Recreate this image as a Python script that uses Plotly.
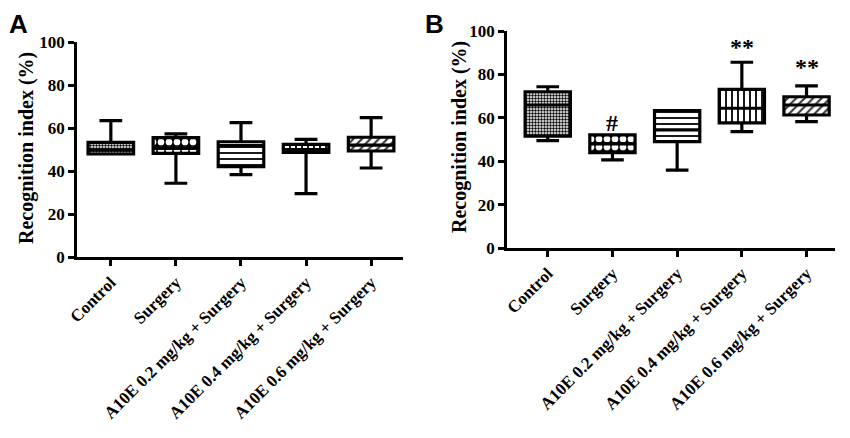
import plotly.graph_objects as go

groups = ["Control", "Surgery", "A10E 0.2 mg/kg + Surgery",
          "A10E 0.4 mg/kg + Surgery", "A10E 0.6 mg/kg + Surgery"]

# panel A
a_min = [47.9, 34.3, 38.3, 29.5, 41.4]
a_q1 = [47.9, 48.2, 42.0, 48.7, 49.3]
a_med = [49.8, 50.5, 51.8, 50.0, 52.0]
a_q3 = [53.3, 55.5, 53.6, 52.4, 55.7]
a_max = [63.4, 57.3, 62.5, 54.7, 64.8]

# panel B
b_min = [49.5, 40.6, 35.9, 53.6, 58.2]
b_q1 = [51.6, 43.9, 49.0, 57.7, 61.3]
b_med = [65.9, 48.0, 54.4, 64.4, 65.9]
b_q3 = [72.0, 52.1, 63.3, 73.1, 69.7]
b_max = [74.3, 52.1, 63.3, 85.6, 74.7]

b_marks = ["", "#", "", "**", "**"]
b_mark_y = [0, 57.5, 0, 92.5, 83.5]

shapes = [".", ".", "-", "|", "/"]
fg = ["black", "white", "black", "black", "#333333"]
bg = ["white", "black", "white", "white", "white"]
psize = [3, 8, 6, 6, 6]
psol = [0.5, 0.55, 0.3, 0.3, 0.35]

serif = "Liberation Serif"
W, H = 850, 438
off = 8  # page body margin

def px(v):
    return (v - off) / W

def py(v):
    return 1 - (v - off) / H

fig = go.Figure()

for i, (lo, q1, med, q3, hi) in enumerate([(a_min, a_q1, a_med, a_q3, a_max),
                                          (b_min, b_q1, b_med, b_q3, b_max)]):
    xa = "x" if i == 0 else "x2"
    ya = "y" if i == 0 else "y2"
    fig.add_trace(go.Bar(
        x=groups, y=[t - b for t, b in zip(q3, q1)], base=q1, width=0.7,
        marker=dict(color="white", line_width=0,
                    pattern=dict(shape=shapes, fgcolor=fg, bgcolor=bg,
                                 size=psize, solidity=psol, fillmode="replace")),
        xaxis=xa, yaxis=ya, showlegend=False, hoverinfo="skip"))
    fig.add_trace(go.Box(
        x=groups, q1=q1, median=med, q3=q3, lowerfence=lo, upperfence=hi,
        width=0.7, whiskerwidth=0.5, fillcolor="rgba(0,0,0,0)",
        line=dict(color="black", width=3.2),
        xaxis=xa, yaxis=ya, showlegend=False))

common_x = dict(type="category", showline=True, linecolor="black", linewidth=2.5,
                ticks="outside", ticklen=6, tickwidth=2.5, tickcolor="black",
                tickangle=-45, tickfont=dict(family=serif, size=17, color="black", weight="bold"),
                showgrid=False, zeroline=False, automargin=False)
common_y = dict(range=[0, 100], dtick=20, showline=True, linecolor="black", linewidth=2.5,
                ticks="outside", ticklen=6, tickwidth=2.5, tickcolor="black",
                tickfont=dict(family=serif, size=17, color="black", weight="bold"),
                showgrid=False, zeroline=False, automargin=False)

fig.update_layout(
    width=W, height=H, margin=dict(l=0, r=0, t=0, b=0),
    plot_bgcolor="white", paper_bgcolor="white",
    barmode="overlay", boxmode="overlay",
    xaxis=dict(domain=[px(77), px(403)], range=[-0.52, 4.49], anchor="y", **common_x),
    yaxis=dict(domain=[py(257), py(42)], anchor="x", **common_y),
    xaxis2=dict(domain=[px(507), px(835)], range=[-0.63, 4.44], anchor="y2", **common_x),
    yaxis2=dict(domain=[py(248), py(31)], anchor="x2", **common_y),
)

# y titles and panel letters
title_font = dict(family=serif, size=20, color="black", weight="bold")
fig.add_annotation(x=px(26), y=py(148), xref="paper", yref="paper",
                   xanchor="center", yanchor="middle",
                   text="Recognition index (%)", textangle=-90, showarrow=False,
                   font=title_font)
fig.add_annotation(x=px(459), y=py(137), xref="paper", yref="paper",
                   xanchor="center", yanchor="middle",
                   text="Recognition index (%)", textangle=-90, showarrow=False,
                   font=title_font)
letter_font = dict(family="Liberation Sans", size=26, color="black", weight="bold")
fig.add_annotation(x=px(8), y=1, xref="paper", yref="paper", text="A",
                   showarrow=False, xanchor="left", yanchor="top", borderpad=0,
                   font=letter_font)
fig.add_annotation(x=px(424), y=1, xref="paper", yref="paper", text="B",
                   showarrow=False, xanchor="left", yanchor="top", borderpad=0,
                   font=letter_font)

for g, m, yv in zip(groups, b_marks, b_mark_y):
    if m:
        fig.add_annotation(x=g, y=yv, xref="x2", yref="y2", text=m, showarrow=False,
                           font=dict(family=serif, size=24, color="black", weight="bold"))

fig.write_html("out.html")
